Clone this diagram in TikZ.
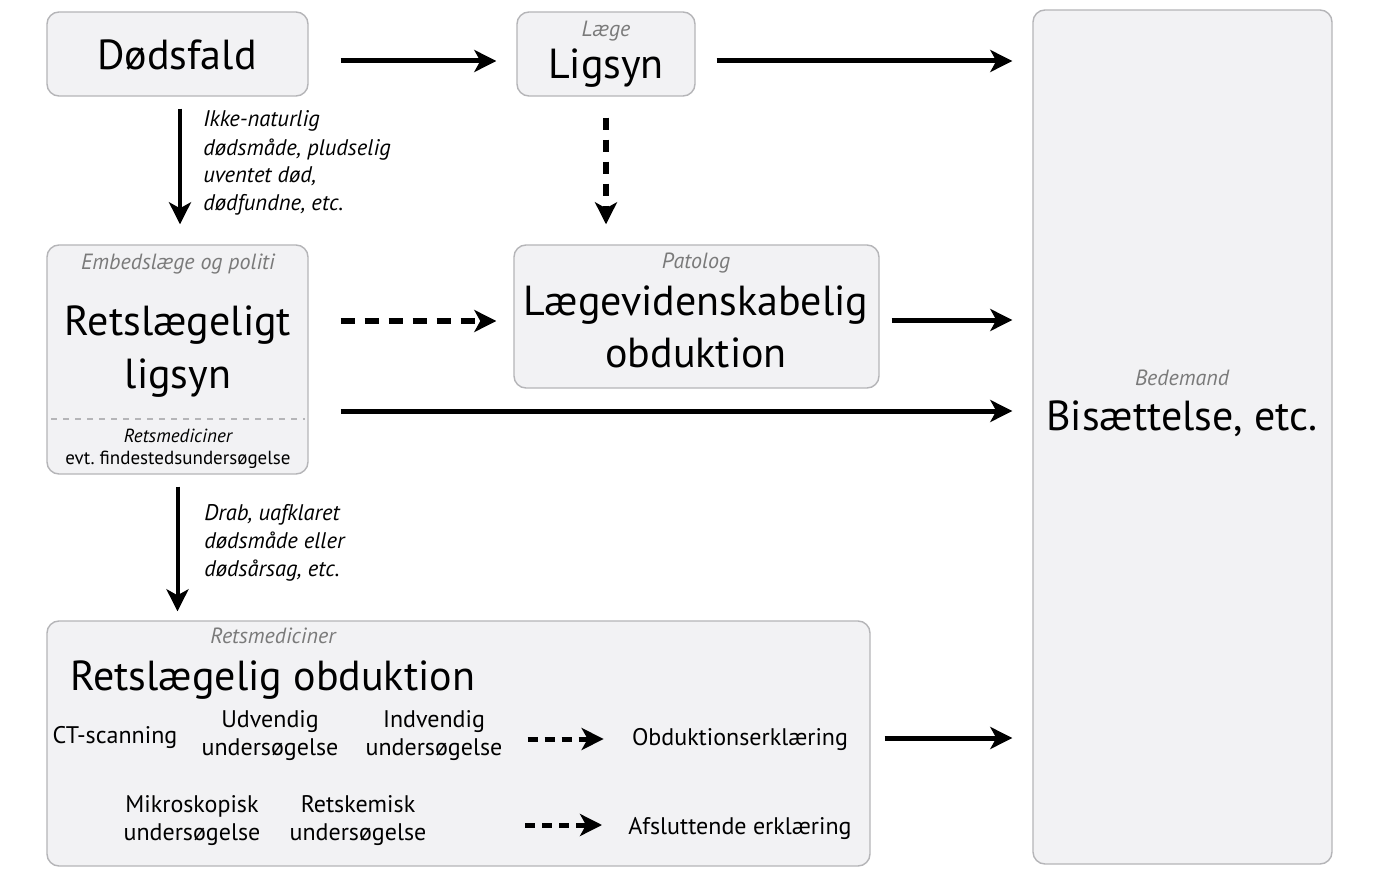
\documentclass[tikz,border=0pt]{standalone}
\usepackage{fontspec}
\setmainfont{PT Sans}
\usepackage{tikz}
\usetikzlibrary{positioning}
\usetikzlibrary{calc}
\usetikzlibrary{arrows.meta}
\definecolor{boxfill}{HTML}{F2F2F4}
\definecolor{boxline}{HTML}{B5B5B8}
\definecolor{rolegray}{HTML}{7A7A7A}

\begin{document}
\begin{tikzpicture}
        [x=0.5pt, y=-0.5pt,
         box/.style={draw=boxline, fill=boxfill, line width=0.7pt, rounded corners=6pt, inner sep=0pt},
         big/.style={font=\fontsize{21}{25}\selectfont, inner sep=0pt, anchor=base},
         role/.style={font=\fontsize{11}{12}\selectfont\itshape, text=rolegray, inner sep=0pt, anchor=base},
         why/.style={font=\fontsize{11.3}{14}\selectfont\itshape, align=left, inner sep=0pt, anchor=base west},
         task/.style={font=\fontsize{12}{14}\selectfont, align=center, inner sep=0pt, anchor=base},
         flow/.style={line width=2.5pt, -{Stealth[length=11pt,width=11pt,inset=3pt]}},
         dashflow/.style={flow, line width=3pt, dash pattern=on 7pt off 5pt},
         dotflow/.style={flow, line width=3pt, dash pattern=on 6pt off 5pt}]
      \fill[white] (0,0) rectangle (1388,888);
      \useasboundingbox (0,0) rectangle (1388,888);
      % boxes
      \node[box, minimum width=130.5pt, minimum height=42pt] (dods) at (177.5,54) {};
      \node[box, minimum width=89pt, minimum height=42pt] (ligsyn) at (606,54) {};
      \node[box, minimum width=149.5pt, minimum height=427pt] (bis) at (1182.5,437) {};
      \node[box, minimum width=130.5pt, minimum height=114.5pt] (embed) at (177.5,359.5) {};
      \node[box, minimum width=182.5pt, minimum height=71.5pt] (pat) at (696.5,316.5) {};
      \node[box, minimum width=411.5pt, minimum height=122.5pt] (retob) at (458.5,743.5) {};
      % texts
      \node[big] (dodstxt) at (177,70) {Dødsfald};
      \node[role] (laege) at (606,37) {Læge};
      \node[big] (ligsyntxt) at (606,79) {Ligsyn};
      \node[role] (bedemand) at (1182,385) {Bedemand};
      \node[big] (bistxt) at (1182,430) {Bisættelse, etc.};
      \node[role] (politi) at (178,270) {Embedslæge og politi};
      \node[big] (rlligsyn1) at (178,335) {Retslægeligt};
      \node[big] (rlligsyn2) at (178,388) {ligsyn};
      \draw[boxline, dashed, line width=0.6pt] ($(embed.west)+(5,59.5)$) -- ($(embed.east)+(-4,59.5)$);
      \node[role, text=black, font=\fontsize{9.5}{11}\selectfont\itshape] (retsmed1) at (178,442) {Retsmediciner};
      \node[font=\fontsize{9.5}{11}\selectfont, inner sep=0pt, anchor=base] (finde) at (178,464) {evt.\ findestedsundersøgelse};
      \node[role] (patolog) at (696,269) {Patolog};
      \node[big] (lvo1) at (696,315) {Lægevidenskabelig};
      \node[big] (lvo2) at (696,367) {obduktion};
      \node[role] (retsmed2) at (273,643) {Retsmediciner};
      \node[big, anchor=base west] (retobtxt) at (70,690) {Retslægelig obduktion};
      \node[task] (ct) at (115,743) {CT-scanning};
      \node[task] (udv) at (270,755) {Udvendig\\undersøgelse};
      \node[task] (indv) at (434,755) {Indvendig\\undersøgelse};
      \node[task] (obderk) at (740,745) {Obduktionserklæring};
      \node[task] (mikro) at (192,840) {Mikroskopisk\\undersøgelse};
      \node[task] (kemi) at (358,840) {Retskemisk\\undersøgelse};
      \node[task] (afsl) at (740,834) {Afsluttende erklæring};
      \coordinate (afslfrom) at (525,825);
      \node[why] (hvorfor1) at (203,211) {Ikke-naturlig\\dødsmåde, pludselig\\uventet død,\\dødfundne, etc.};
      \node[why] (hvorfor2) at (204,576) {Drab, uafklaret\\dødsmåde eller\\dødsårsag, etc.};
      % arrows
      \draw[flow, shorten <=16pt, shorten >=10pt] ($(dods.east)+(0,7)$) -- ($(ligsyn.west)+(0,7)$);
      \draw[flow, shorten <=10.5pt, shorten >=10pt] ($(ligsyn.east)+(0,7)$) -- ($(ligsyn.east -| bis.west)+(0,7)$);
      \draw[flow, line width=2pt, shorten <=6pt, shorten >=10pt] ($(dods.south)+(2.5,0)$) -- ($(embed.north)+(2.5,0)$);
      \draw[dotflow, shorten <=10.5pt, shorten >=10pt] (ligsyn.south) -- (ligsyn.south |- pat.north);
      \draw[dashflow, shorten <=16pt, shorten >=8.5pt] ($(pat.west -| embed.east)+(0,4.5)$) -- ($(pat.west)+(0,4.5)$);
      \draw[flow, shorten <=6pt, shorten >=10pt] ($(pat.east)+(0,3.5)$) -- ($(pat.east -| bis.west)+(0,3.5)$);
      \draw[flow, shorten <=16pt, shorten >=10pt] ($(embed.east)+(0,51.5)$) -- ($(embed.east -| bis.west)+(0,51.5)$);
      \draw[flow, line width=2pt, shorten <=6pt, shorten >=4.5pt] (embed.south) -- (embed.south |- retob.north);
      \draw[flow, shorten <=7pt, shorten >=10pt] ($(retob.east)+(0,-5.5)$) -- ($(retob.east -| bis.west)+(0,-5.5)$);
      \draw[dashflow, line width=2.5pt, dash pattern=on 5pt off 3.5pt, shorten <=12.5pt, shorten >=14pt] (indv.east |- obderk.west) -- (obderk.west);
      \draw[dashflow, line width=2.5pt, dash pattern=on 5pt off 3.5pt, shorten >=13pt] (afslfrom) -- (afslfrom -| afsl.west);
      \end{tikzpicture}
\end{document}
